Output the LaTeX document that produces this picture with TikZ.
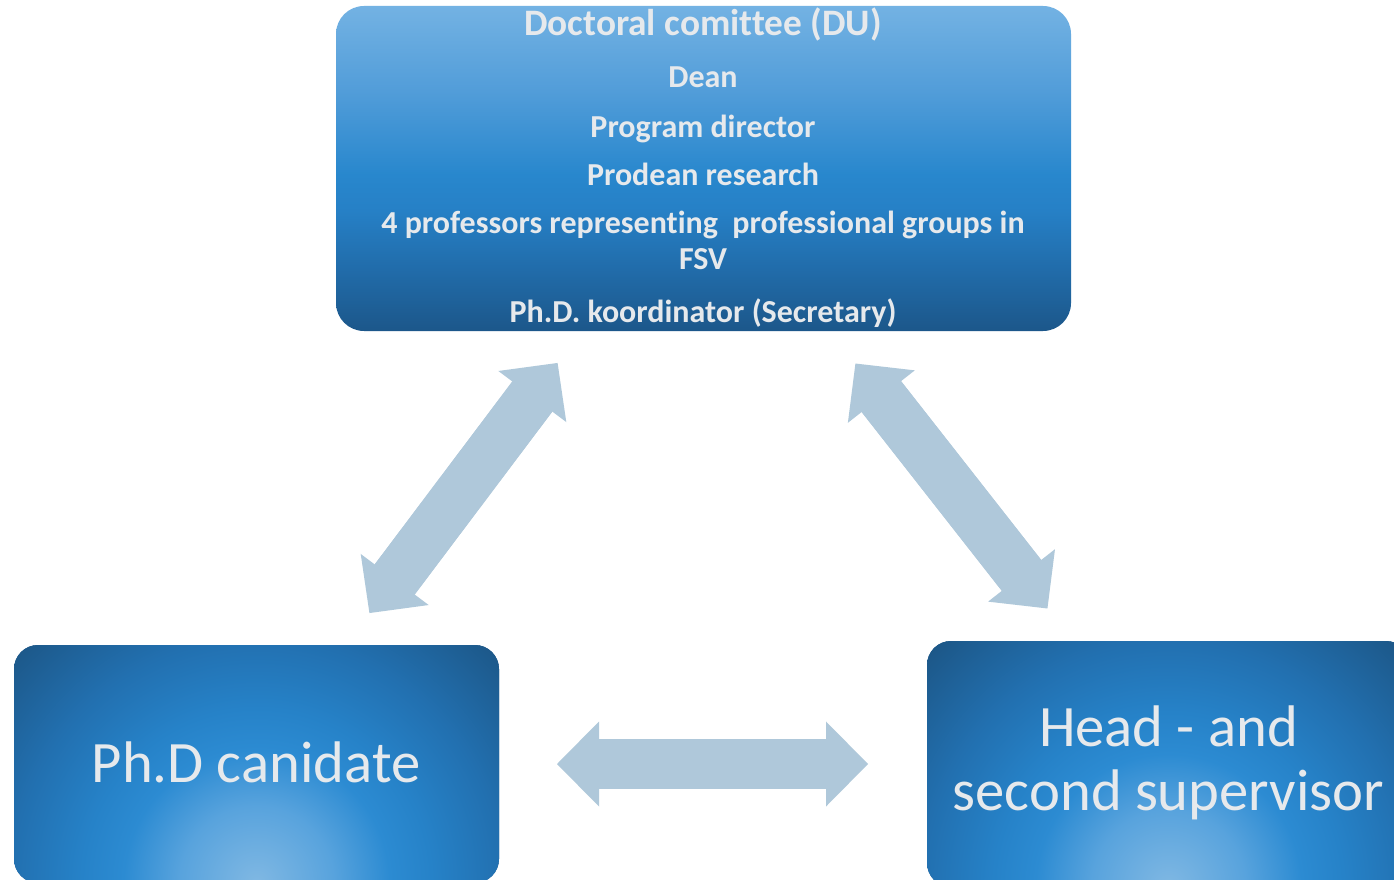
\documentclass[tikz,border=0pt]{standalone}
\usepackage{fontspec}
\setmainfont{Carlito}[Ligatures=NoCommon]
\usetikzlibrary{arrows.meta}

% committee box: light at the top, vivid blue in the middle, dark at the foot
\definecolor{duA}{RGB}{28,87,138}
\definecolor{duB}{RGB}{33,108,170}
\definecolor{duC}{RGB}{38,128,198}
\definecolor{duD}{RGB}{40,135,205}
\definecolor{duE}{RGB}{82,157,217}
\definecolor{duF}{RGB}{115,178,227}
% lower boxes: glow rising from the bottom edge
\definecolor{glowA}{RGB}{128,184,227}
\definecolor{glowB}{RGB}{88,163,221}
\definecolor{glowC}{RGB}{44,139,210}
\definecolor{glowD}{RGB}{38,130,200}
\definecolor{glowE}{RGB}{34,112,176}
\definecolor{glowF}{RGB}{28,86,134}
\definecolor{arrowfill}{RGB}{175,200,218}
\definecolor{labeltext}{RGB}{230,233,236}

\pgfdeclareverticalshading{dushade}{100bp}{%
  color(0bp)=(duA); color(25bp)=(duA); color(34.5bp)=(duB);
  color(43.5bp)=(duC); color(49bp)=(duD); color(62bp)=(duE);
  color(75bp)=(duF); color(100bp)=(duF)}

\pgfdeclareradialshading{boxglow}{\pgfpointorigin}{%
  color(0bp)=(glowA); color(5.5bp)=(glowB); color(9.5bp)=(glowC);
  color(12.5bp)=(glowD); color(17.5bp)=(glowE); color(24.3bp)=(glowF);
  color(50bp)=(glowF)}

\tikzset{
  topbox/.style={rectangle, rounded corners=21pt, inner sep=0pt, outer sep=0pt,
    minimum width=551.25pt, minimum height=243.75pt, shading=dushade},
  glowbox/.style={rectangle, rounded corners=18pt, inner sep=0pt, outer sep=0pt,
    fill=glowF,
    path picture={\shade[shading=boxglow]
      (path picture bounding box.south) circle [radius=262.5pt];}},
  headline/.style={text=labeltext, inner sep=0pt, anchor=base,
    font=\bfseries\fontsize{28}{33}\selectfont},
  memberline/.style={text=labeltext, inner sep=0pt, anchor=base,
    font=\bfseries\fontsize{24}{29}\selectfont},
  rolelabel/.style={text=labeltext, inner sep=0pt, anchor=base,
    font=\fontsize{44}{50}\selectfont},
  bigarrow/.style={draw=arrowfill, line width=37.5pt,
    arrows={Triangle[length=31.5pt,width=63.75pt,line width=0pt]-Triangle[length=31.5pt,width=63.75pt,line width=0pt]}},
  % plain shaft laid over the joints between shaft and heads
  shaftpatch/.style={draw=arrowfill, line width=37.5pt, line cap=butt}
}

\begin{document}
\begin{tikzpicture}[x=0.75pt, y=-0.75pt]
  \useasboundingbox (0,0) rectangle (1394,880);
  \fill[white] (0,0) rectangle (1394,880);

  % boxes
  \node[topbox] (du) at (703.5,168.5) {};
  \node[glowbox, minimum width=363.75pt, minimum height=178.5pt] (cand) at (256.5,764) {};
  \node[glowbox, minimum width=362.25pt, minimum height=184.5pt] (sup) at (1168.5,764) {};

  % committee members
  \node[headline] (t0) at (703,36) {Doctoral comittee (DU)};
  \node[memberline] (t1) at (703,88) {Dean};
  \node[memberline] (t2) at (703,137.5) {Program director};
  \node[memberline] (t3) at (703,186) {Prodean research};
  \node[memberline] (t4) at (703,234) {4 professors representing~ professional groups in};
  \node[memberline] (t5) at (703,270) {FSV};
  \node[memberline] (t6) at (703,322.5) {Ph.D. koordinator (Secretary)};

  % roles
  \node[rolelabel] (c0) at (256,782) {Ph.D canidate};
  \node[rolelabel] (s0) at (1168.5,746) {Head - and};
  \node[rolelabel] (s1) at (1168.5,810) {second supervisor};

  % two-way relations
  \draw[bigarrow, shorten <=30pt, shorten >=30pt] (du) -- (cand);
  \draw[shaftpatch, shorten <=53.5pt, shorten >=53.5pt] (du) -- (cand);
  \draw[bigarrow, shorten <=31pt, shorten >=31pt] (du) -- (sup);
  \draw[shaftpatch, shorten <=54.5pt, shorten >=54.5pt] (du) -- (sup);
  \draw[bigarrow, shorten <=43.5pt, shorten >=44.25pt] (cand) -- (sup);
  \draw[shaftpatch, shorten <=67pt, shorten >=67.75pt] (cand) -- (sup);
\end{tikzpicture}
\end{document}
